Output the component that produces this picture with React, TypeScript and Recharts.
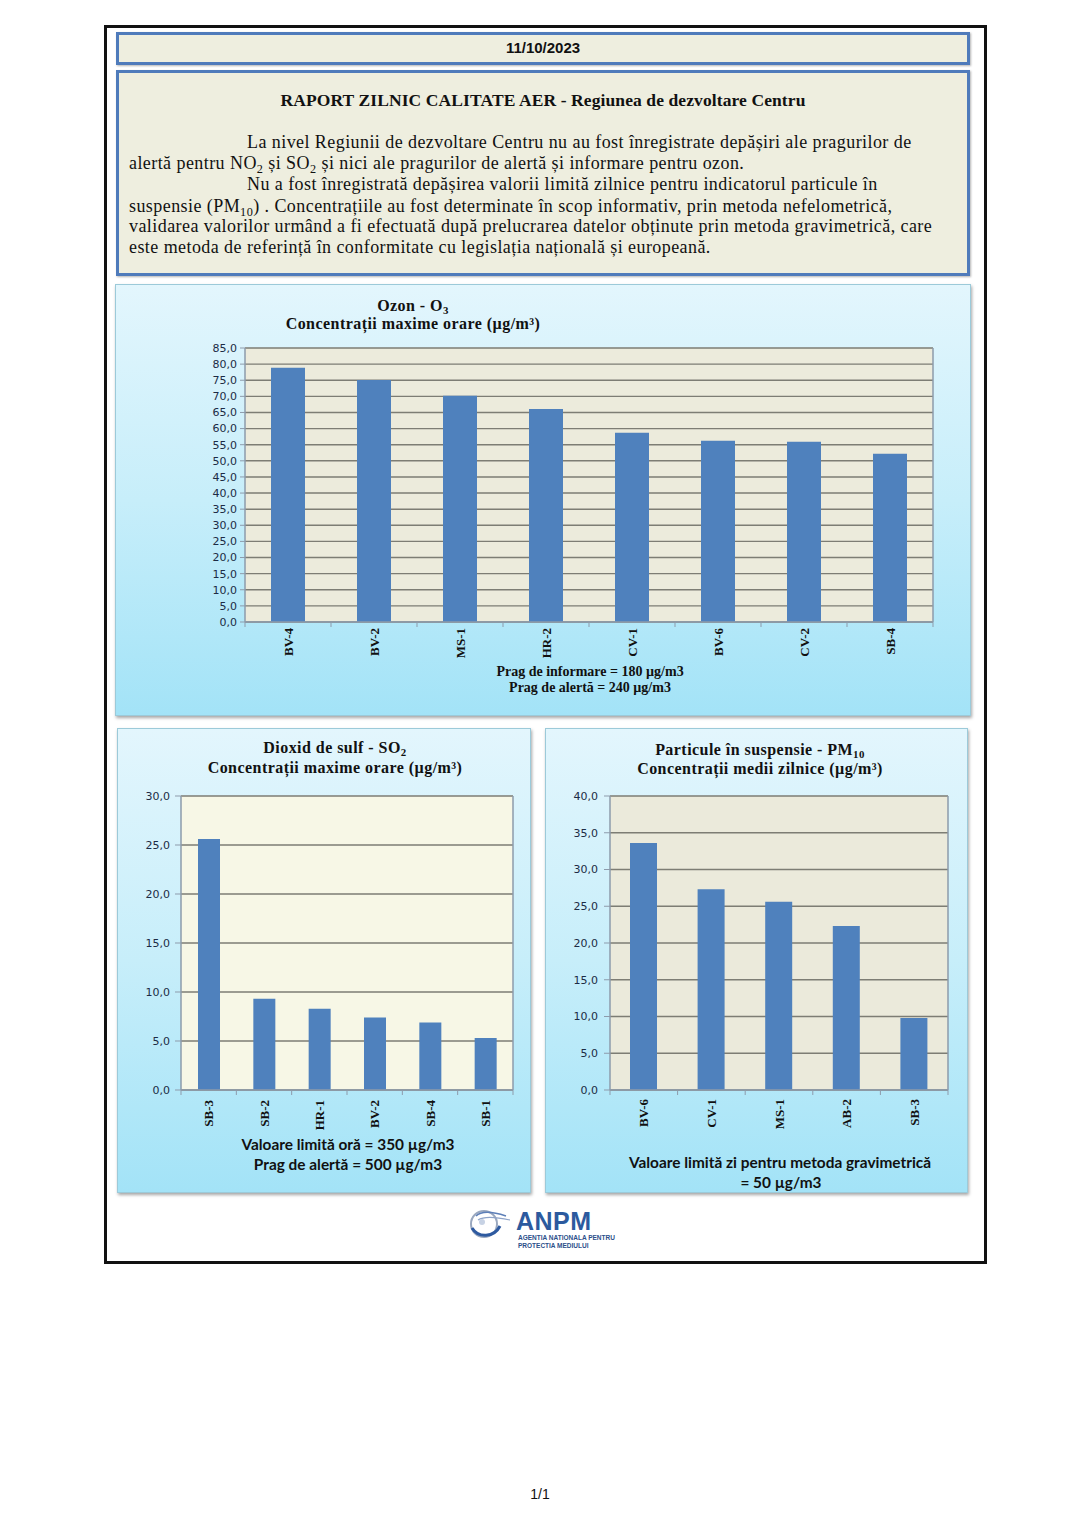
import React from 'react';
import { BarChart, Bar, XAxis, YAxis, CartesianGrid } from 'recharts';

// ---------- DATA ----------
const reportDate = '11/10/2023';

const ozoneStations = ['BV-4', 'BV-2', 'MS-1', 'HR-2', 'CV-1', 'BV-6', 'CV-2', 'SB-4'];
const ozoneValues = [78.9, 75.1, 70.2, 66.1, 58.7, 56.2, 55.9, 52.2];
const ozoneTicks = [0, 5, 10, 15, 20, 25, 30, 35, 40, 45, 50, 55, 60, 65, 70, 75, 80, 85];

const so2Stations = ['SB-3', 'SB-2', 'HR-1', 'BV-2', 'SB-4', 'SB-1'];
const so2Values = [25.6, 9.3, 8.3, 7.4, 6.9, 5.3];
const so2Ticks = [0, 5, 10, 15, 20, 25, 30];

const pm10Stations = ['BV-6', 'CV-1', 'MS-1', 'AB-2', 'SB-3'];
const pm10Values = [33.6, 27.3, 25.6, 22.3, 9.8];
const pm10Ticks = [0, 5, 10, 15, 20, 25, 30, 35, 40];

// ---------- STYLE CONSTANTS ----------
const BAR = '#4f81bd';
const AXIS = '#8d9bab';
const GRID = '#7d7d74';
const TICK_TXT = '#1c2b45';
const SERIF = '"Liberation Serif", "DejaVu Serif", serif';
const SANS = '"Liberation Sans", Arial, sans-serif';

const fmt = (v: number) => v.toFixed(1).replace('.', ',');

type ChartProps = {
  stations: string[];
  values: number[];
  ticks: number[];
  left: number;
  top: number;
  width: number;
  height: number;
  topMargin: number;
  yAxisW: number;
  rightW: number;
  xAxisH: number;
  barSize: number;
  plotFill: string;
  tickSize: number;
  tickMargin: number;
  labelOffset: number;
};

function StationChart(p: ChartProps) {
  const rows = p.stations.map((s, i) => ({ station: s, value: p.values[i] }));
  const plotW = p.width - p.yAxisW - p.rightW;
  const catW = plotW / p.stations.length;
  const n = p.stations.length;
  const XTick = (props: any) => {
    const { x, y, payload } = props;
    const idx = props.index ?? payload?.index ?? 0;
    const ly = y + p.labelOffset;
    return (
      <g>
        <line x1={x - catW / 2} y1={y} x2={x - catW / 2} y2={y + 5} stroke={AXIS} strokeWidth={1} />
        {idx === n - 1 && (
          <line x1={x + catW / 2} y1={y} x2={x + catW / 2} y2={y + 5} stroke={AXIS} strokeWidth={1} />
        )}
        <text
          x={x}
          y={ly}
          dy="0.35em"
          textAnchor="end"
          transform={`rotate(-90, ${x}, ${ly})`}
          fontFamily={SERIF}
          fontWeight="bold"
          fontSize={13}
          fill="#111"
        >
          {payload.value}
        </text>
      </g>
    );
  };
  return (
    <div style={{ position: 'absolute', left: p.left, top: p.top }}>
      <BarChart
        width={p.width}
        height={p.height}
        data={rows}
        margin={{ top: p.topMargin, right: 0, left: 0, bottom: 0 }}
        barCategoryGap={0}
      >
        <CartesianGrid vertical={false} stroke={GRID} strokeWidth={1.4} fill={p.plotFill} fillOpacity={1} />
        <XAxis
          dataKey="station"
          height={p.xAxisH}
          interval={0}
          tickSize={0}
          tickMargin={0}
          tickLine={false}
          axisLine={{ stroke: AXIS, strokeWidth: 1.5 }}
          tick={<XTick />}
        />
        <YAxis
          width={p.yAxisW}
          domain={[0, p.ticks[p.ticks.length - 1]]}
          ticks={p.ticks}
          interval={0}
          tickFormatter={fmt}
          tickSize={p.tickSize}
          tickMargin={p.tickMargin}
          tickLine={{ stroke: AXIS }}
          axisLine={{ stroke: AXIS, strokeWidth: 1.5 }}
          tick={{ fill: TICK_TXT, fontSize: 11, fontFamily: '"DejaVu Sans", Verdana, sans-serif' }}
          allowDataOverflow
        />
        <YAxis
          yAxisId="r"
          orientation="right"
          width={p.rightW}
          tick={false}
          tickLine={false}
          axisLine={{ stroke: AXIS, strokeWidth: 1.5 }}
        />
        <Bar dataKey="value" fill={BAR} barSize={p.barSize} isAnimationActive={false} />
      </BarChart>
    </div>
  );
}

const abs = (left: number, top: number, extra: React.CSSProperties = {}): React.CSSProperties => ({
  position: 'absolute',
  left,
  top,
  ...extra,
});

const sub: React.CSSProperties = { fontSize: '0.68em', verticalAlign: '-0.3em', lineHeight: 0 };

const panelStyle = (left: number, top: number, width: number, height: number): React.CSSProperties => ({
  position: 'absolute',
  left,
  top,
  width,
  height,
  boxSizing: 'border-box',
  border: '1px solid #9ccad9',
  background: 'linear-gradient(to bottom, #e3f6fd 0%, #c7eefa 50%, #a3e3f7 100%)',
  boxShadow: '1px 2px 3px rgba(0,0,0,0.35)',
});

function CenterLine(props: { cx: number; cy: number; children: React.ReactNode; style: React.CSSProperties }) {
  return (
    <div
      style={{
        position: 'absolute',
        left: props.cx - 300,
        top: props.cy - 10,
        width: 600,
        height: 20,
        lineHeight: '20px',
        textAlign: 'center',
        whiteSpace: 'nowrap',
        ...props.style,
      }}
    >
      {props.children}
    </div>
  );
}

function TextLine(props: { x: number; cy: number; children: React.ReactNode }) {
  return (
    <div
      style={{
        position: 'absolute',
        left: props.x,
        top: props.cy - 10,
        height: 20,
        lineHeight: '20px',
        whiteSpace: 'nowrap',
        fontFamily: SERIF,
        fontSize: 18,
        letterSpacing: 0.43,
        color: '#111',
      }}
    >
      {props.children}
    </div>
  );
}

export default function App() {
  const titleStyle: React.CSSProperties = {
    fontFamily: SERIF,
    fontWeight: 'bold',
    fontSize: 16,
    letterSpacing: 0.45,
    color: '#111',
  };
  const ozNote: React.CSSProperties = { fontFamily: SERIF, fontWeight: 'bold', fontSize: 14, color: '#111' };
  const sansNote: React.CSSProperties = {
    fontFamily: 'Lato, "Open Sans", sans-serif',
    fontWeight: 'bold',
    fontSize: 15.4,
    color: '#111',
  };
  return (
    <div style={{ position: 'absolute', left: 0, top: 0, width: 1080, height: 1528, background: '#fff', overflow: 'hidden' }}>
      {/* outer frame */}
      <div style={abs(104, 25, { width: 883, height: 1239, border: '3px solid #111', boxSizing: 'border-box' })} />

      {/* date box */}
      <div
        style={abs(116, 32, {
          width: 854,
          height: 33,
          boxSizing: 'border-box',
          border: '3px solid #4f7bbb',
          background: '#eeeedf',
          boxShadow: '1px 1px 2px rgba(0,0,0,0.3)',
        })}
      />
      <CenterLine cx={543} cy={48} style={{ fontFamily: SANS, fontWeight: 'bold', fontSize: 15, color: '#111' }}>
        {reportDate}
      </CenterLine>

      {/* report box */}
      <div
        style={abs(116, 70, {
          width: 854,
          height: 206,
          boxSizing: 'border-box',
          border: '3px solid #4f7bbb',
          background: '#eeeedf',
          boxShadow: '1px 1px 2px rgba(0,0,0,0.3)',
        })}
      />
      <CenterLine
        cx={543}
        cy={100}
        style={{ fontFamily: SERIF, fontWeight: 'bold', fontSize: 17.5, letterSpacing: 0.1, color: '#111' }}
      >
        RAPORT ZILNIC CALITATE AER - Regiunea de dezvoltare Centru
      </CenterLine>
      <TextLine x={247} cy={142}>
        La nivel Regiunii de dezvoltare Centru nu au fost înregistrate depășiri ale pragurilor de
      </TextLine>
      <TextLine x={129} cy={163}>
        alertă pentru NO<span style={sub}>2</span> și SO<span style={sub}>2</span> și nici ale pragurilor de alertă și
        informare pentru ozon.
      </TextLine>
      <TextLine x={247} cy={184}>
        Nu a fost înregistrată depășirea valorii limită zilnice pentru indicatorul particule în
      </TextLine>
      <TextLine x={129} cy={206}>
        suspensie (PM<span style={sub}>10</span>) . Concentrațiile au fost determinate în scop informativ, prin metoda
        nefelometrică,
      </TextLine>
      <TextLine x={129} cy={226}>
        validarea valorilor urmând a fi efectuată după prelucrarea datelor obținute prin metoda gravimetrică, care
      </TextLine>
      <TextLine x={129} cy={247}>
        este metoda de referință în conformitate cu legislația națională și europeană.
      </TextLine>

      {/* OZONE panel */}
      <div style={panelStyle(115, 284, 856, 432)} />
      <StationChart
        stations={ozoneStations}
        values={ozoneValues}
        ticks={ozoneTicks}
        left={115}
        top={284}
        width={856}
        height={432}
        topMargin={64}
        yAxisW={130}
        rightW={38}
        xAxisH={94}
        barSize={34}
        plotFill="#ecebdc"
        tickSize={5}
        tickMargin={3}
        labelOffset={6}
      />
      <CenterLine cx={413} cy={306} style={titleStyle}>
        Ozon - O<span style={sub}>3</span>
      </CenterLine>
      <CenterLine cx={413} cy={324} style={titleStyle}>
        Concentrații maxime orare (µg/m³)
      </CenterLine>
      <CenterLine cx={590} cy={672} style={ozNote}>
        Prag de informare = 180 µg/m3
      </CenterLine>
      <CenterLine cx={590} cy={688} style={ozNote}>
        Prag de alertă = 240 µg/m3
      </CenterLine>

      {/* SO2 panel */}
      <div style={panelStyle(117, 728, 414, 465)} />
      <StationChart
        stations={so2Stations}
        values={so2Values}
        ticks={so2Ticks}
        left={117}
        top={728}
        width={414}
        height={465}
        topMargin={68}
        yAxisW={64}
        rightW={18}
        xAxisH={103}
        barSize={22}
        plotFill="#f7f7e6"
        tickSize={6}
        tickMargin={5}
        labelOffset={10}
      />
      <CenterLine cx={335} cy={748} style={titleStyle}>
        Dioxid de sulf - SO<span style={sub}>2</span>
      </CenterLine>
      <CenterLine cx={335} cy={768} style={titleStyle}>
        Concentrații maxime orare (µg/m³)
      </CenterLine>
      <CenterLine cx={348} cy={1144} style={sansNote}>
        Valoare limită oră = 350 µg/m3
      </CenterLine>
      <CenterLine cx={348} cy={1164} style={sansNote}>
        Prag de alertă = 500 µg/m3
      </CenterLine>

      {/* PM10 panel */}
      <div style={panelStyle(545, 728, 423, 465)} />
      <StationChart
        stations={pm10Stations}
        values={pm10Values}
        ticks={pm10Ticks}
        left={545}
        top={728}
        width={423}
        height={465}
        topMargin={68}
        yAxisW={65}
        rightW={20}
        xAxisH={103}
        barSize={27}
        plotFill="#ebeadb"
        tickSize={6}
        tickMargin={6}
        labelOffset={9}
      />
      <CenterLine cx={760} cy={750} style={titleStyle}>
        Particule în suspensie - PM<span style={sub}>10</span>
      </CenterLine>
      <CenterLine cx={760} cy={769} style={titleStyle}>
        Concentrații medii zilnice (µg/m³)
      </CenterLine>
      <CenterLine cx={780} cy={1162} style={sansNote}>
        Valoare limită zi pentru metoda gravimetrică
      </CenterLine>
      <CenterLine cx={781} cy={1182} style={sansNote}>
        = 50 µg/m3
      </CenterLine>

      {/* ANPM logo */}
      <svg style={abs(466, 1206)} width={50} height={36} viewBox="0 0 50 36">
        <circle cx={18} cy={18} r={13} fill="none" stroke="#9aa8bf" strokeWidth={2} />
        <path d="M6 22 C 12 32, 28 32, 34 20" fill="none" stroke="#2e5aa0" strokeWidth={3} />
        <path d="M10 10 C 16 4, 28 6, 40 10" fill="none" stroke="#5d7fb8" strokeWidth={1.5} />
        <path d="M12 14 C 18 10, 30 11, 44 14" fill="none" stroke="#8ea3c8" strokeWidth={1.2} />
        <circle cx={16} cy={16} r={3} fill="#c7d2e4" />
      </svg>
      <div
        style={abs(516, 1207, {
          fontFamily: SANS,
          fontWeight: 'bold',
          fontSize: 25,
          color: '#2c5a9e',
          lineHeight: '28px',
          letterSpacing: 0.5,
        })}
      >
        ANPM
      </div>
      <div
        style={abs(518, 1234, {
          fontFamily: SANS,
          fontWeight: 'bold',
          fontSize: 6.5,
          color: '#2c4f8a',
          lineHeight: '7.5px',
          whiteSpace: 'nowrap',
        })}
      >
        AGENTIA NATIONALA PENTRU
        <br />
        PROTECTIA MEDIULUI
      </div>

      {/* footer */}
      <CenterLine cx={540} cy={1494} style={{ fontFamily: SANS, fontSize: 14, color: '#111' }}>
        1/1
      </CenterLine>
    </div>
  );
}
